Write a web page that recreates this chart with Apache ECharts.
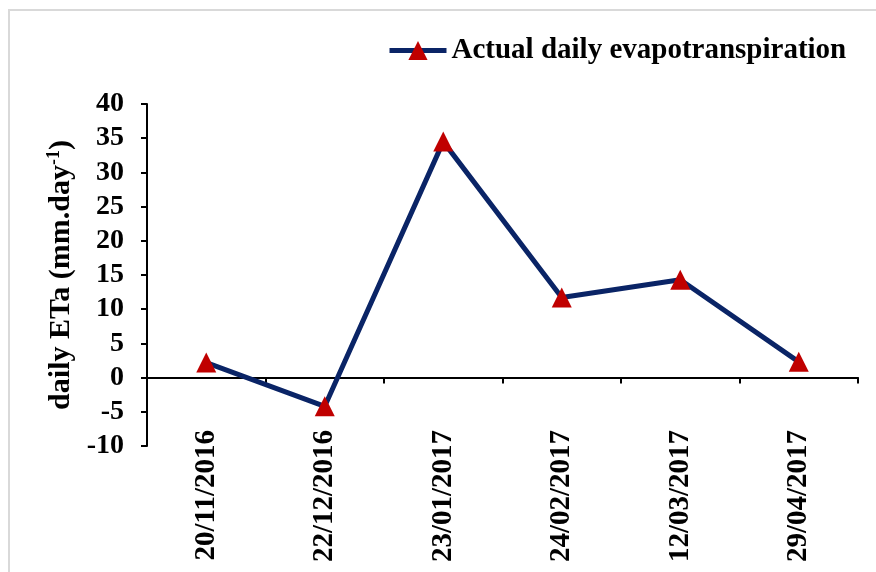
<!DOCTYPE html>
<html>
<head>
<meta charset="utf-8">
<script src="https://cdn.jsdelivr.net/npm/echarts@6/dist/echarts.min.js"></script>
<style>html,body{margin:0;padding:0;background:#fff}#c{width:876px;height:572px}</style>
</head>
<body>
<div id="c"></div>
<script>
const categories = ['20/11/2016','22/12/2016','23/01/2017','24/02/2017','12/03/2017','29/04/2017'];
const etaValues = [2.2, -4.2, 34.5, 11.7, 14.3, 2.3];
const seriesName = 'Actual daily evapotranspiration';
const yTicks = { min: -10, max: 40, interval: 5 };

const FONT = '"Liberation Serif", "Times New Roman", serif';
const chart = echarts.init(document.getElementById('c'));
chart.setOption({
  backgroundColor: '#fff',
  animation: false,
  graphic: [
    { type: 'line', shape: { x1: 9, y1: 10, x2: 9, y2: 572 }, style: { stroke: '#d9d9d9', lineWidth: 2 } },
    { type: 'line', shape: { x1: 8, y1: 10, x2: 876, y2: 10 }, style: { stroke: '#d9d9d9', lineWidth: 2 } }
  ],
  grid: { left: 147, right: 18, top: 104, bottom: 126, containLabel: false, outerBoundsMode: 'none' },
  legend: {
    data: [seriesName],
    top: 31, left: 382,
    itemWidth: 57, itemHeight: 24, itemGap: 4,
    lineStyle: { width: 5 },
    textStyle: { fontFamily: FONT, fontWeight: 'bold', fontSize: 29, color: '#000' }
  },
  xAxis: {
    type: 'category',
    data: categories,
    boundaryGap: true,
    axisLine: { onZero: true, lineStyle: { color: '#000', width: 2 } },
    axisTick: { show: true, inside: false, length: 6, alignWithLabel: false, lineStyle: { color: '#000', width: 2 } },
    axisLabel: { rotate: 90, margin: -16, fontFamily: FONT, fontWeight: 'bold', fontSize: 29, color: '#000' },
    splitLine: { show: false }
  },
  yAxis: {
    type: 'value',
    min: yTicks.min, max: yTicks.max, interval: yTicks.interval,
    name: 'daily ETa (mm.day{sup|-1})',
    nameLocation: 'middle',
    nameGap: 71,
    nameRotate: 90,
    nameTextStyle: {
      fontFamily: FONT, fontWeight: 'bold', fontSize: 30, color: '#000',
      rich: { sup: { fontFamily: FONT, fontWeight: 'bold', fontSize: 18, color: '#000', verticalAlign: 'top', padding: [0, 0, 12, 0] } }
    },
    axisLine: { show: true, lineStyle: { color: '#000', width: 2 } },
    axisTick: { show: true, length: 6, lineStyle: { color: '#000', width: 2 } },
    axisLabel: { margin: 23, fontFamily: FONT, fontWeight: 'bold', fontSize: 28, color: '#000' },
    splitLine: { show: false }
  },
  series: [{
    name: seriesName,
    type: 'line',
    data: etaValues,
    symbol: 'triangle',
    symbolSize: [20, 20],
    lineStyle: { color: '#0a2466', width: 5 },
    itemStyle: { color: '#c00000', borderWidth: 0 },
    z: 3
  }]
});
</script>
</body>
</html>
